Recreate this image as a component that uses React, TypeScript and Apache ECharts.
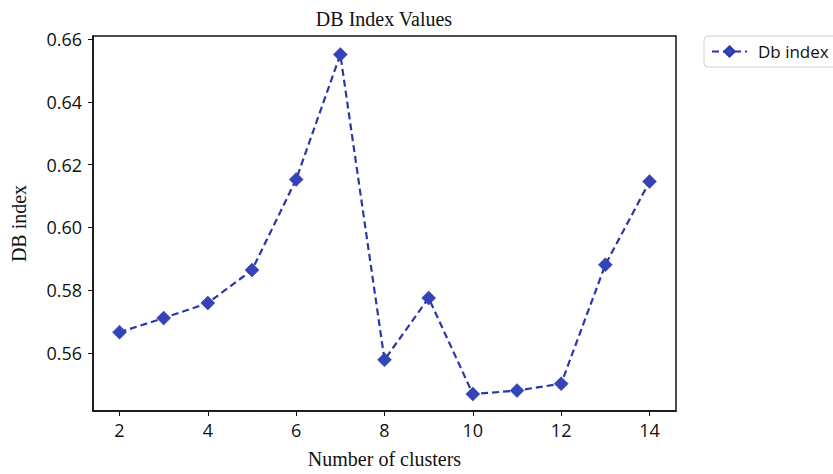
import React, { useEffect, useRef } from "react";
import * as echarts from "echarts";

const clusters = [2, 3, 4, 5, 6, 7, 8, 9, 10, 11, 12, 13, 14];
const dbIndex = [0.5666, 0.5711, 0.5759, 0.5864, 0.6153, 0.6551, 0.5578, 0.5775, 0.5469, 0.548, 0.5502, 0.5881, 0.6146];
const xTicks = [2, 4, 6, 8, 10, 12, 14];
const yTicks = [0.56, 0.58, 0.6, 0.62, 0.64, 0.66];

const SERIF = "'Liberation Serif', 'DejaVu Serif', serif";
const SANS = "'Open Sans', 'Liberation Sans', sans-serif";

export default function App() {
  const ref = useRef<HTMLDivElement>(null);
  useEffect(() => {
    if (!ref.current) return;
    const chart = echarts.init(ref.current, undefined, { renderer: "svg" });
    chart.setOption({
      animation: false,
      backgroundColor: "#ffffff",
      grid: {
        left: 93,
        right: 157,
        top: 36,
        bottom: 59,
        show: true,
        borderColor: "#111",
        borderWidth: 1.5,
        backgroundColor: "transparent",
      },
      graphic: [
        {
          type: "text",
          x: 384,
          y: 9,
          style: {
            text: "DB Index Values",
            font: `20px ${SERIF}`,
            fill: "#111",
            textAlign: "center",
            textVerticalAlign: "top",
          },
        },
      ],
      legend: {
        left: 704,
        top: 36,
        padding: [7, 40, 7, 7],
        borderColor: "#d0d0d0",
        borderWidth: 1,
        borderRadius: 4,
        backgroundColor: "#fff",
        itemWidth: 35,
        itemHeight: 13,
        textStyle: { fontFamily: SANS, fontSize: 17, color: "#111", padding: [0, 0, 0, 6] },
        data: ["Db index"],
      },
      xAxis: {
        type: "value",
        min: 1.4,
        max: 14.6,
        name: "Number of clusters",
        nameLocation: "middle",
        nameGap: 38,
        nameTextStyle: { fontFamily: SERIF, fontSize: 20, color: "#111" },
        splitLine: { show: false },
        axisLine: { show: true, lineStyle: { color: "#111", width: 1.5 } },
        axisTick: { show: true, length: 5, lineStyle: { color: "#111" }, customValues: xTicks },
        axisLabel: {
          fontFamily: SANS,
          fontSize: 18,
          color: "#111",
          margin: 10,
          customValues: xTicks,
          formatter: (v: number) => String(v),
        },
      },
      yAxis: {
        type: "value",
        min: 0.5415,
        max: 0.661,
        name: "DB index",
        nameLocation: "middle",
        nameGap: 64,
        nameTextStyle: { fontFamily: SERIF, fontSize: 20, color: "#111" },
        splitLine: { show: false },
        axisLine: { show: true, lineStyle: { color: "#111", width: 1.5 } },
        axisTick: { show: true, length: 5, lineStyle: { color: "#111" }, customValues: yTicks },
        axisLabel: {
          fontFamily: SANS,
          fontSize: 18,
          color: "#111",
          margin: 11,
          customValues: yTicks,
          formatter: (v: number) => v.toFixed(2),
        },
      },
      series: [
        {
          name: "Db index",
          type: "line",
          data: clusters.map((c, i) => [c, dbIndex[i]]),
          symbol: "diamond",
          symbolSize: 14,
          lineStyle: { color: "#2c37a6", width: 2.2, type: [7, 4] },
          itemStyle: { color: "#3444b8", borderColor: "#2c37a6", borderWidth: 0.5 },
        },
      ],
    });
    return () => chart.dispose();
  }, []);
  return (
    <div
      ref={ref}
      style={{ position: "absolute", left: 0, top: 0, width: 833, height: 474 }}
    />
  );
}
